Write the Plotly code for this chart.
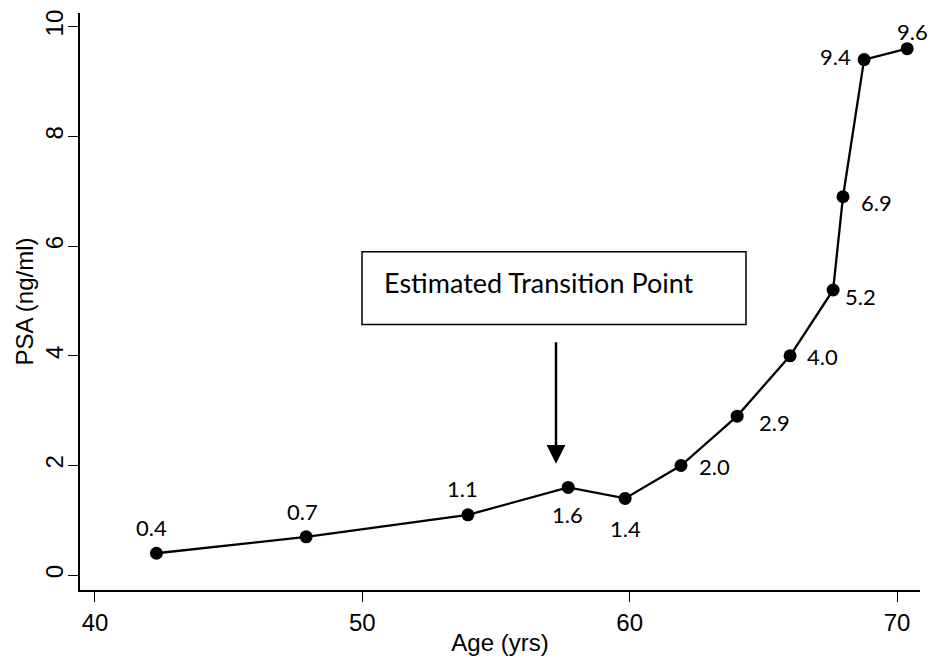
import plotly.graph_objects as go

age = [42.3, 47.9, 53.95, 57.7, 59.83, 61.92, 64.02, 66.0, 67.61, 67.98, 68.77, 70.38]
psa = [0.4, 0.7, 1.1, 1.6, 1.4, 2.0, 2.9, 4.0, 5.2, 6.9, 9.4, 9.6]
labels = ["0.4", "0.7", "1.1", "1.6", "1.4", "2.0", "2.9", "4.0", "5.2", "6.9", "9.4", "9.6"]

# label offsets in pixels (x shift, y shift, x anchor)
label_offsets = [(-5, 26, "center"), (-4, 25, "center"), (-5, 26, "center"),
                 (-1, -27, "center"), (0, -30, "center"), (16, -1, "left"),
                 (20, -6, "left"), (15, -1, "left"), (10, -7, "left"),
                 (16, -6, "left"), (-11, 3, "right"), (5, 17, "center")]

label_font = dict(family="Lato, Open Sans, sans-serif", size=22, color="black")
axis_font = dict(family="Liberation Sans, Arial, sans-serif", size=24, color="black")

fig = go.Figure()
fig.add_trace(go.Scatter(
    x=age, y=psa, mode="lines+markers",
    line=dict(color="black", width=2.3),
    marker=dict(color="black", size=13),
    showlegend=False, hoverinfo="skip"))

for x, y, t, (xs, ys, xa) in zip(age, psa, labels, label_offsets):
    fig.add_annotation(x=x, y=y, text=t, showarrow=False, xanchor=xa, yanchor="middle",
                       xshift=xs, yshift=ys, font=label_font)

# Transition box
fig.add_shape(type="rect", xref="paper", yref="paper",
              x0=(362 - 80) / 840, x1=(746 - 80) / 840,
              y0=(590 - 323) / 580, y1=(590 - 250) / 580,
              line=dict(color="black", width=1.5), fillcolor="white")
fig.add_annotation(xref="paper", yref="paper", x=(382 - 80) / 840, y=(590 - 281) / 580,
                   text="Estimated Transition Point", showarrow=False,
                   xanchor="left", yanchor="middle",
                   font=dict(family="Lato, Open Sans, sans-serif", size=27, color="black"))
# Arrow
fig.add_annotation(xref="paper", yref="paper", axref="pixel", ayref="pixel",
                   x=(556 - 80) / 840, y=(590 - 463) / 580, ax=0, ay=-123,
                   text="", showarrow=True, arrowhead=2, arrowsize=1.5, arrowwidth=2.5,
                   arrowcolor="black")

fig.update_layout(
    width=934, height=662, paper_bgcolor="white", plot_bgcolor="white",
    margin=dict(l=80, r=14, t=10, b=72),
    xaxis=dict(range=[39.44, 70.86], tickvals=[40, 50, 60, 70], showline=True,
               linecolor="black", linewidth=1.5, ticks="outside", ticklen=10,
               tickcolor="black", showgrid=False, zeroline=False, tickfont=axis_font,
               title=dict(text="Age (yrs)", standoff=0, font=axis_font)),
    yaxis=dict(range=[-0.27, 10.25], tickvals=[0, 2, 4, 6, 8, 10], showline=True,
               linecolor="black", linewidth=1.5, ticks="outside", ticklen=10,
               tickcolor="black", showgrid=False, zeroline=False, tickangle=-90,
               tickfont=axis_font, ticklabelstandoff=-4,
               title=dict(text="PSA (ng/ml)", standoff=0, font=axis_font)),
)
fig.write_html("out.html", post_script="document.body.style.margin='0';",
               config={"displayModeBar": False})
